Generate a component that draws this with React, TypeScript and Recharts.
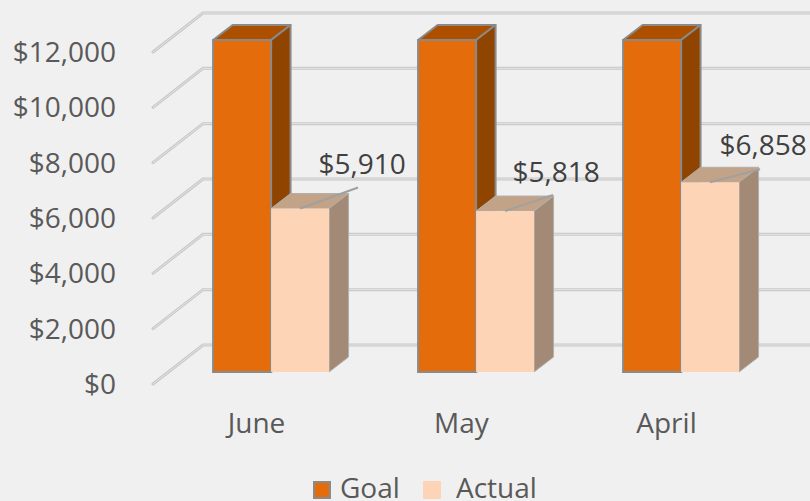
import React from "react";
import { BarChart, Bar, XAxis, YAxis, Legend, LabelList, CartesianGrid } from "recharts";

const months = ["June", "May", "April"];
const goalValues = [12000, 12000, 12000];
const actualValues = [5910, 5818, 6858];
const valueTicks = [0, 2000, 4000, 6000, 8000, 10000, 12000];

const rows = months.map((month, i) => ({ month, Goal: goalValues[i], Actual: actualValues[i] }));

const FONT = "'Open Sans', sans-serif";
const FONT_SIZE = 28;
const DEPTH_X = 19.5;
const DEPTH_Y = 15;
const money = (v: number) => "$" + v.toLocaleString("en-US");

// label centre relative to the bar's top-centre, and the leader's far end
const labelShift = [
  { dx: 62, dy: -44, lx: 58, ly: -21 },
  { dx: 51, dy: -39, lx: 48, ly: -16 },
  { dx: 53, dy: -37, lx: 50, ly: -13 },
];

const Face3D = ({ x, y, width, height, front, top, side, edge, edgeWidth, frontEdge }: any) => {
  const x2 = x + width;
  const y2 = y + height;
  return (
    <g>
      <polygon
        points={`${x},${y} ${x + DEPTH_X},${y - DEPTH_Y} ${x2 + DEPTH_X},${y - DEPTH_Y} ${x2},${y}`}
        fill={top} stroke={edge} strokeWidth={edgeWidth} strokeLinejoin="round"
      />
      <polygon
        points={`${x2},${y} ${x2 + DEPTH_X},${y - DEPTH_Y} ${x2 + DEPTH_X},${y2 - DEPTH_Y} ${x2},${y2}`}
        fill={side} stroke={edge} strokeWidth={edgeWidth} strokeLinejoin="round"
      />
      <rect x={x} y={y} width={width} height={height} fill={front} stroke={frontEdge} strokeWidth={edgeWidth} />
    </g>
  );
};

const GoalShape = (p: any) => (
  <Face3D {...p} front="#e46c0a" top="#ac5000" side="#8f4500" edge="#8a8a8a" frontEdge="#8a8a8a" edgeWidth={2} />
);
const ActualShape = (p: any) => (
  <Face3D {...p} front="#fdd4b5" top="#c3a388" side="#a28a76" edge="#b0b0b0" frontEdge="none" edgeWidth={1} />
);

const GridPath = ({ y1 }: any) => {
  const points = `153,${y1 + 12} 203,${y1 - 27} 811,${y1 - 27}`;
  return (
    <g>
      <polyline points={points} fill="none" stroke="#c8c8c8" strokeWidth={3} strokeLinecap="round" />
      <polyline points={points} fill="none" stroke="#e4e4e4" strokeWidth={1} strokeLinecap="round" />
    </g>
  );
};

const YTick = ({ y, payload }: any) => (
  <text x={116} y={y + 22} textAnchor="end" fontFamily={FONT} fontSize={FONT_SIZE} fill="#595959">
    {money(payload.value)}
  </text>
);

const XTick = ({ x, payload }: any) => (
  <text x={x - 15} y={433} textAnchor="middle" fontFamily={FONT} fontSize={FONT_SIZE} fill="#595959">
    {payload.value}
  </text>
);

const ActualLabel = ({ x, y, width, value, index }: any) => {
  const s = labelShift[index];
  const cx = x + width / 2;
  return (
    <g>
      <line x1={cx} y1={y} x2={cx + s.lx} y2={y + s.ly} stroke="#a0a0a0" strokeWidth={2} />
      <text x={cx + s.dx} y={y + s.dy + 10} textAnchor="middle" fontFamily={FONT} fontSize={FONT_SIZE} fill="#404040">
        {money(value)}
      </text>
    </g>
  );
};

const legendSpots: Record<string, { box: number; text: number; border: string }> = {
  Goal: { box: 313, text: 340, border: "2px solid #8a8a8a" },
  Actual: { box: 423, text: 456, border: "none" },
};

const LegendBody = ({ payload }: any) => (
  <div style={{ position: "relative", width: 810, height: 41 }}>
    {(payload || []).map((e: any) => {
      const s = legendSpots[e.value];
      return (
        <React.Fragment key={e.value}>
          <span
            style={{
              position: "absolute", left: s.box, top: 21, width: 18, height: 18, boxSizing: "border-box",
              background: e.color, border: s.border,
            }}
          />
          <span
            style={{
              position: "absolute", left: s.text, top: 13, height: 28, lineHeight: "28px",
              fontFamily: FONT, fontSize: FONT_SIZE, color: "#595959", whiteSpace: "nowrap",
            }}
          >
            {e.value}
          </span>
        </React.Fragment>
      );
    })}
  </div>
);

export default function App() {
  return (
    <div style={{ position: "fixed", left: 0, top: 0, width: 810, height: 501, overflow: "hidden", background: "#f0f0f0" }}>
      <BarChart
        width={810}
        height={501}
        data={rows}
        margin={{ top: 40, right: 26, bottom: 0, left: 0 }}
        barCategoryGap="21.5%"
        barGap={0}
      >
        <CartesianGrid horizontal={<GridPath />} vertical={false} syncWithTicks />
        <YAxis
          type="number"
          domain={[0, 12000]}
          ticks={valueTicks}
          width={169}
          axisLine={false}
          tickLine={false}
          tick={<YTick />}
          interval={0}
        />
        <XAxis dataKey="month" height={129} axisLine={false} tickLine={false} tick={<XTick />} interval={0} />
        <Legend
          verticalAlign="middle"
          itemSorter={null}
          content={<LegendBody />}
          wrapperStyle={{ left: 0, top: 460, width: 810, height: 41 }}
        />
        <Bar dataKey="Goal" fill="#e46c0a" shape={<GoalShape />} isAnimationActive={false} />
        <Bar dataKey="Actual" fill="#fdd4b5" shape={<ActualShape />} isAnimationActive={false}>
          <LabelList dataKey="Actual" content={<ActualLabel />} />
        </Bar>
      </BarChart>
    </div>
  );
}
